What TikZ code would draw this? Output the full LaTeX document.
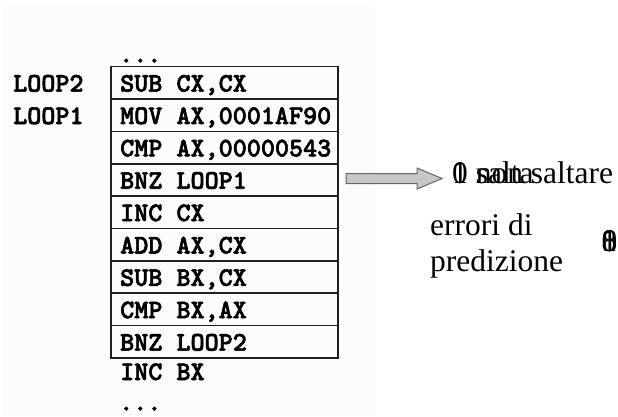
\documentclass[tikz,border=0pt]{standalone}
\usepackage{fontspec}
\setmainfont{Liberation Serif}
\newfontfamily\codefont{lmmonolt10-bold}[Extension=.otf, FakeBold=2.2]
\begin{document}
\begin{tikzpicture}[x=1pt,y=-1pt,
  code/.style={font=\codefont\fontsize{26.8}{30}\selectfont, anchor=base west, inner sep=0pt},
  cell/.style={draw=black!88, line width=1.6pt, minimum width=227pt, minimum height=32.4pt, inner sep=0pt, anchor=north west},
  note/.style={font=\fontsize{31.5}{36}\selectfont, anchor=base west, inner sep=0pt},
  blockarrow/.style={fill=black!22, draw=black!60, line width=1pt, line join=miter}]
  % canvas and the light panel behind the listing
  \useasboundingbox (0,0) rectangle (618,416);
  \fill[white] (0,0) rectangle (618,416);
  \fill[black!1.2] (3,6) rectangle (375,416);

  % listing cells
  \foreach \i/\t in {0/{SUB CX,CX},1/{MOV AX,0001AF90},2/{CMP AX,00000543},3/{BNZ LOOP1},
                     4/{INC CX},5/{ADD AX,CX},6/{SUB BX,CX},7/{CMP BX,AX},8/{BNZ LOOP2}} {
    \node[cell] (r\i) at (110,{65.8+32.37*\i}) {};
    \node[code] (t\i) at (120,{65.8+32.37*\i+25.8}) {\t};
  }

  \node[code] (dotsTop) at (119,62.5) {...};
  \node[code] (incbx) at (120,380) {INC BX};
  \node[code] (dotsBot) at (119,410.5) {...};

  % labels
  \node[code] (loop2) at (13,91.6) {LOOP2};
  \node[code] (loop1) at (13,124) {LOOP1};

  % block arrow from the branch row
  \coordinate (a0) at (346,178.5);
  \path[blockarrow] (a0) ++(0,-5) -- ++(71,0) -- ++(0,-5.5) -- (442,178.5)
        -- (417,189) -- ++(0,-5.5) -- ++(-71,0) -- cycle;

  % overlaid outcome texts
  \node[note] (outA) at (452,183.5) {0 salta};
  \node[note] (outB) at (452,183.5) {1 non saltare};

  \node[note] (err1) at (430,235) {errori di};
  \node[note] (err2) at (430,271.5) {predizione};

  \node[note] (cnt0) at (601.5,251) {0};
  \node[note] (cnt1) at (601.5,251) {1};
  \node[note] (cnt2) at (601.5,251) {8};
\end{tikzpicture}
\end{document}
